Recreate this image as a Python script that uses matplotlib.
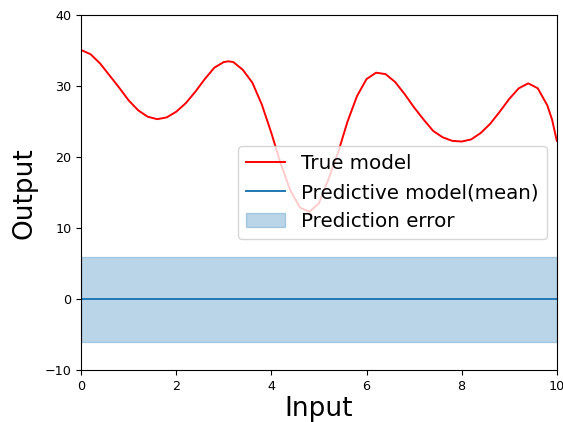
import matplotlib
matplotlib.use('Agg')
import matplotlib.pyplot as plt
import numpy as np

# values
x_true = [0.0, 0.2, 0.4, 0.6, 0.8, 1.0, 1.2, 1.4, 1.6, 1.8, 2.0, 2.2, 2.4, 2.6,
          2.8, 3.0, 3.1, 3.2, 3.4, 3.6, 3.8, 4.0, 4.2, 4.4, 4.6, 4.8, 5.0, 5.2,
          5.4, 5.6, 5.8, 6.0, 6.2, 6.4, 6.6, 6.8, 7.0, 7.2, 7.4, 7.6, 7.8, 8.0,
          8.2, 8.4, 8.6, 8.8, 9.0, 9.2, 9.4, 9.6, 9.8, 9.9, 10.0]
y_true = [35.1, 34.5, 33.2, 31.5, 29.8, 28.0, 26.6, 25.7, 25.35, 25.6, 26.4, 27.6, 29.2, 31.0,
          32.6, 33.4, 33.5, 33.4, 32.3, 30.5, 27.4, 23.4, 19.0, 15.3, 12.9, 12.3, 13.5, 16.9,
          20.6, 25.0, 28.6, 31.0, 31.9, 31.7, 30.6, 28.9, 27.0, 25.3, 23.7, 22.8, 22.3, 22.2,
          22.5, 23.4, 24.7, 26.4, 28.2, 29.7, 30.4, 29.7, 27.3, 25.3, 22.3]

x_pred = [0.0, 10.0]
mean_pred = [0.0, 0.0]
err_pred = [6.0, 6.0]

fig = plt.figure(figsize=(5.63, 4.22), dpi=100)
ax = fig.add_axes([0.144, 0.123, 0.845, 0.841])

ax.plot(x_true, y_true, color='r', lw=1.4, label='True model')
ax.plot(x_pred, mean_pred, color='C0', lw=1.4, label='Predictive model(mean)')
lo = np.array(mean_pred) - np.array(err_pred)
hi = np.array(mean_pred) + np.array(err_pred)
ax.fill_between(x_pred, lo, hi, color='C0', alpha=0.3, label='Prediction error')

ax.set_xlim(0, 10)
ax.set_ylim(-10, 40)
ax.set_xticks([0, 2, 4, 6, 8, 10])
ax.set_yticks([-10, 0, 10, 20, 30, 40])
ax.tick_params(labelsize=9.2)
ax.set_xlabel('Input', fontsize=19, labelpad=2)
ax.set_ylabel('Output', fontsize=19, labelpad=5)
ax.legend(loc='center right', fontsize=14.3)

fig.savefig('out.png', dpi=100)
